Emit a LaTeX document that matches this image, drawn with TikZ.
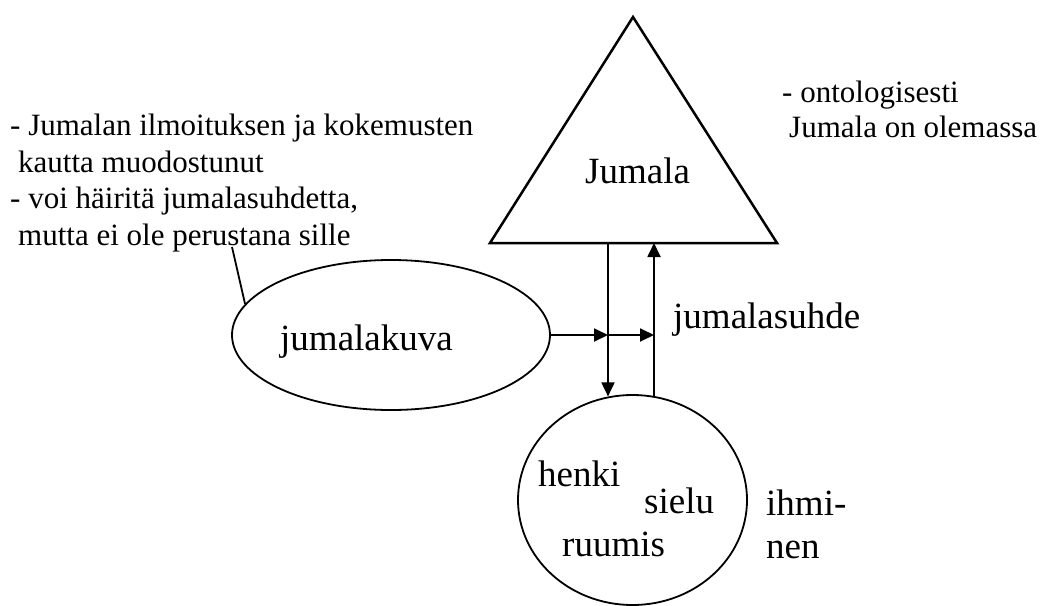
\documentclass[tikz,border=0pt]{standalone}
\usepackage{fontspec}
\setmainfont{Liberation Serif}
\usetikzlibrary{arrows.meta,shapes.geometric}
\begin{document}
\begin{tikzpicture}[x=1pt,y=-1pt,
  small/.style={font=\fontsize{31}{37}\selectfont, inner sep=0pt, anchor=base west},
  big/.style={font=\fontsize{37}{43}\selectfont, inner sep=0pt, anchor=base west},
  ln/.style={line width=1.8pt},
  arr/.style={ln,-{Triangle[length=14pt,width=13pt]}}]
\useasboundingbox (0,0) rectangle (1046,605);
% triangle
\coordinate (tl) at (490,243);
\coordinate (tr) at (777,243);
\coordinate (ta) at (633,17);
\draw[line width=2.5pt, line join=miter] (tl) -- (ta) -- (tr) -- cycle;
\node[big] (jum) at (585,183) {Jumala};
% ellipse
\node[draw, ellipse, ln, minimum width=318pt, minimum height=150pt, inner sep=0pt] (kuva) at (391,335) {};
\node[big] (kuvat) at (280,350) {jumalakuva};
% circle
\node[draw, ellipse, ln, minimum width=229pt, minimum height=210pt, inner sep=0pt] (ihm) at (632.5,500) {};
\node[big] (henki) at (538,486) {henki};
\node[big] (sielu) at (644,513) {sielu};
\node[big] (ruumis) at (562,556) {ruumis};
\node[big] (ihmi) at (766,515) {ihmi-};
\node[big] (nen) at (766,558) {nen};
\node[big] (suhde) at (673,328) {jumalasuhde};
% left text
\node[small] (l1) at (10,135) {- Jumalan ilmoituksen ja kokemusten};
\node[small] (l2) at (18,172) {kautta muodostunut};
\node[small] (l3) at (10,208) {- voi häiritä jumalasuhdetta,};
\node[small] (l4) at (18,245) {mutta ei ole perustana sille};
% right text
\node[small] (r1) at (782,102) {- ontologisesti};
\node[small] (r2) at (789,137) {Jumala on olemassa};
% pointer
\coordinate (ptr) at (232,247);
\draw[ln] (ptr) -- (kuva.168);
% arrows
\coordinate (dtop) at (608,243);
\coordinate (utop) at (654,243);
\draw[arr] (dtop) -- (dtop |- ihm.103.4);
\draw[arr] (utop |- ihm.78.2) -- (utop);
\coordinate (mid) at (kuva.east -| dtop);
\draw[arr] (kuva.east) -- (mid);
\draw[arr] (mid) -- (kuva.east -| utop);
\end{tikzpicture}
\end{document}
